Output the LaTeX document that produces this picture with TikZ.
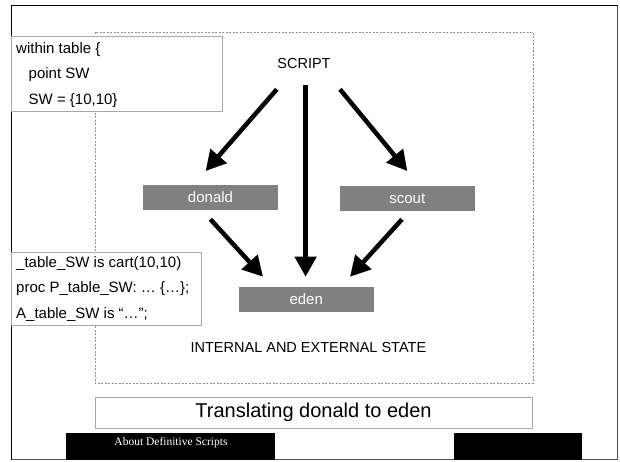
\documentclass[tikz,border=0pt]{standalone}
\usepackage{fontspec}
\setmainfont{Liberation Sans}
\newfontfamily\serifx{Liberation Serif}
\usetikzlibrary{arrows.meta}
\definecolor{boxline}{HTML}{A8A8A8}
\definecolor{boxfill}{HTML}{808080}
\definecolor{dotline}{HTML}{909090}
\definecolor{frameside}{HTML}{505050}
\begin{document}
\begin{tikzpicture}[x=1pt,y=-1pt,
  codebox/.style={draw=boxline, line width=0.8pt, fill=white, inner sep=0pt, anchor=north west},
  code/.style={anchor=base west, inner sep=0pt, font=\fontsize{15}{18}\selectfont},
  label/.style={inner sep=0pt, font=\fontsize{14.5}{17}\selectfont},
  gbox/.style={fill=boxfill, text=white, inner sep=0pt, minimum width=135pt, minimum height=25pt, font=\fontsize{15}{18}\selectfont},
  bigarrow/.style={line width=4.5pt, -{Triangle[length=20pt,width=21pt]}},
  blackbar/.style={fill=black, draw=none, inner sep=0pt, anchor=north west}]
\useasboundingbox (0,0) rectangle (620,461);
% outer frame
\draw[frameside, line width=1.2pt] (617.5,5.3) -- (617.5,459.5) -- (11.5,459.5);
\draw[black, line width=1.6pt] (11.5,459.5) -- (11.5,5.3) -- (617.5,5.3);
% dotted region
\draw[dotline, line width=0.8pt, dash pattern=on 2pt off 1.5pt] (95,32) rectangle (533,383);
% code boxes
\node[codebox, minimum width=211pt, minimum height=75pt] (tbl) at (11,36) {};
\node[code] (l1) at (16,53) {within table \{};
\node[code] (l2) at (28.5,78) {point SW};
\node[code] (l3) at (28.5,104) {SW = \{10,10\}};
\node[codebox, minimum width=190pt, minimum height=73.5pt] (edn) at (11,251.7) {};
\node[code] (m1) at (16,267.5) {\_table\_SW is cart(10,10)};
\node[code] (m2) at (16,292.5) {proc P\_table\_SW: … \{…\};};
\node[code] (m3) at (16,318.5) {A\_table\_SW is “…”;};
% labels
\node[label] (script) at (304,63.3) {SCRIPT};
\node[label] (state) at (308.4,347.7) {INTERNAL AND EXTERNAL STATE};
% gray boxes
\node[gbox] (donald) at (210.5,197.5) {donald};
\node[gbox] (scout) at (407.3,198.3) {scout};
\node[gbox] (eden) at (306.2,299.5) {eden};
% arrow end points
\coordinate (sd) at (276.8,89.3);
\coordinate (dt) at (205.6,171);
\coordinate (se) at (305.6,85);
\coordinate (et) at (305.6,276.7);
\coordinate (ss) at (340,89.3);
\coordinate (st) at (407.3,171);
\coordinate (de) at (210.4,219.3);
\coordinate (dte) at (263,276.7);
\coordinate (sce) at (402,219.3);
\coordinate (ste) at (350,276.7);
\draw[bigarrow] (sd) -- (dt);
\draw[bigarrow] (se) -- (et);
\draw[bigarrow] (ss) -- (st);
\draw[bigarrow] (de) -- (dte);
\draw[bigarrow] (sce) -- (ste);
% title box
\node[draw=boxline, line width=0.8pt, fill=white, minimum width=437pt, minimum height=31pt, inner sep=0pt, font=\fontsize{20}{24}\selectfont] (title) at (313.5,412.5) {Translating donald to eden};
% footer bars
\node[blackbar, minimum width=208.5pt, minimum height=27pt] (barl) at (66,433) {};
\node[blackbar, minimum width=128pt, minimum height=27pt] (barr) at (454,433) {};
\node[inner sep=0pt, text=white, font=\serifx\fontsize{11.5}{13}\selectfont] (foot) at (171,443) {About Definitive Scripts};
\end{tikzpicture}
\end{document}
